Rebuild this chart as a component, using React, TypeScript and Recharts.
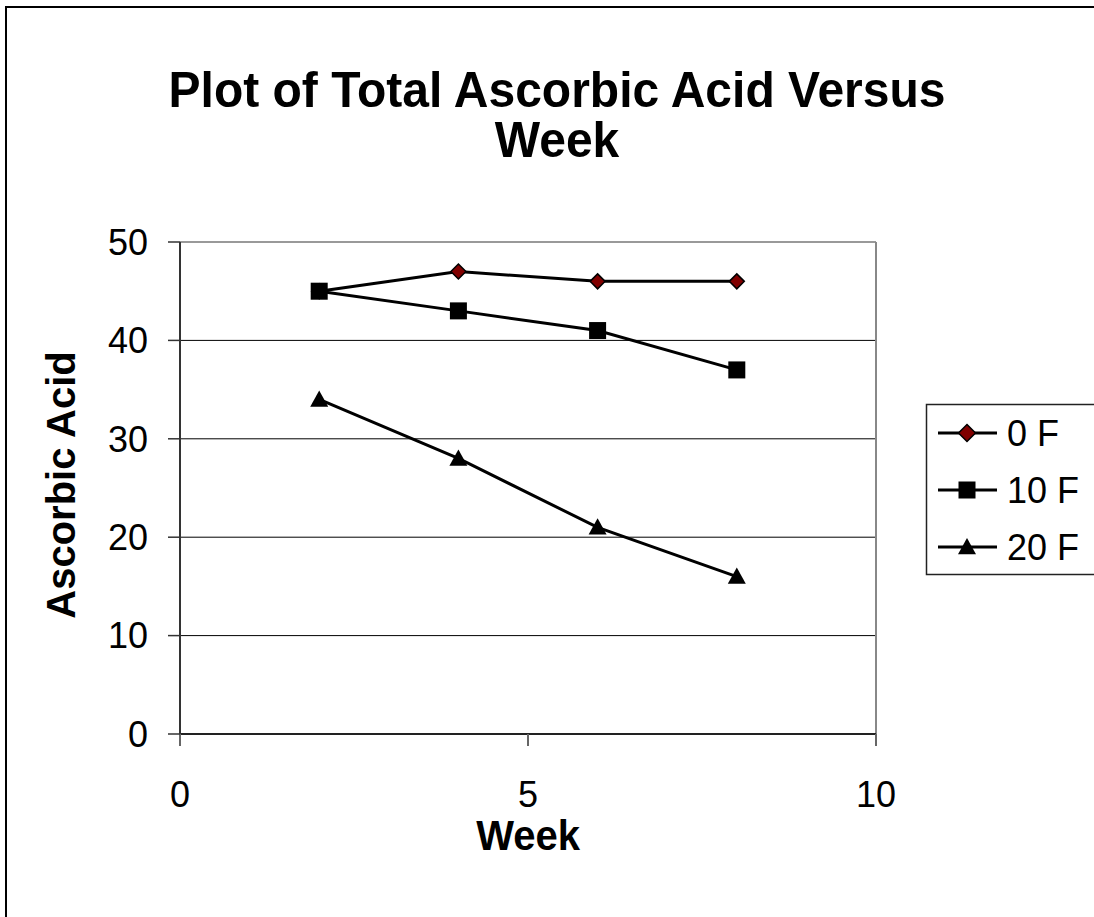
import React from "react";
import { LineChart, Line, XAxis, YAxis, CartesianGrid, ReferenceLine } from "recharts";

const weeks = [2, 4, 6, 8];
const series0F = [45, 47, 46, 46];
const series10F = [45, 43, 41, 37];
const series20F = [34, 28, 21, 16];
const xTicks = [0, 5, 10];
const yTicks = [0, 10, 20, 30, 40, 50];
const seriesNames = ["0 F", "10 F", "20 F"];
const titleLines = ["Plot of Total Ascorbic Acid Versus", "Week"];
const xTitle = "Week";
const yTitle = "Ascorbic Acid";

const data = weeks.map((w, i) => ({ week: w, f0: series0F[i], f10: series10F[i], f20: series20F[i] }));

const FONT = "'Liberation Sans', Arial, sans-serif";

const diamondPath = (cx: number, cy: number, r: number) =>
  `M${cx},${cy - r}L${cx + r},${cy}L${cx},${cy + r}L${cx - r},${cy}Z`;
const trianglePath = (cx: number, cy: number, r: number) =>
  `M${cx},${cy - r}L${cx + r},${cy + r * 0.8}L${cx - r},${cy + r * 0.8}Z`;

const DiamondDot = (props: any) => {
  const { cx, cy, index } = props;
  if (cx == null || cy == null) return <g key={`d-${index}`} />;
  return <path key={`d-${index}`} d={diamondPath(cx, cy, 7.5)} fill="#800000" stroke="#000" strokeWidth={1.5} />;
};
const SquareDot = (props: any) => {
  const { cx, cy, index } = props;
  if (cx == null || cy == null) return <g key={`s-${index}`} />;
  return <rect key={`s-${index}`} x={cx - 8.5} y={cy - 8.5} width={17} height={17} fill="#000" />;
};
const TriangleDot = (props: any) => {
  const { cx, cy, index } = props;
  if (cx == null || cy == null) return <g key={`t-${index}`} />;
  return <path key={`t-${index}`} d={trianglePath(cx, cy, 9)} fill="#000" />;
};

const legendMarkers = [
  (cx: number, cy: number) => <path d={diamondPath(cx, cy, 8.5)} fill="#800000" stroke="#000" strokeWidth={1.5} />,
  (cx: number, cy: number) => <rect x={cx - 8.5} y={cy - 8.5} width={17} height={17} fill="#000" />,
  (cx: number, cy: number) => <path d={trianglePath(cx, cy, 9)} fill="#000" />,
];

export default function App() {
  return (
    <div
      style={{
        position: "absolute",
        left: 0,
        top: 0,
        width: 1094,
        height: 917,
        overflow: "hidden",
        background: "#fff",
        fontFamily: FONT,
      }}
    >
      <div style={{ position: "absolute", left: 5, top: 6, width: 2000, height: 2000, borderLeft: "2px solid #000", borderTop: "2px solid #000" }} />
      <div style={{ position: "absolute", left: 0, top: 0 }}>
        <LineChart width={1094} height={917} data={data} margin={{ top: 242, right: 218, bottom: 123, left: 100 }}>
          <CartesianGrid horizontal={true} vertical={false} stroke="#000" strokeWidth={1} />
          <XAxis
            type="number"
            dataKey="week"
            domain={[0, 10]}
            ticks={xTicks}
            height={60}
            tickSize={12}
            tickMargin={35}
            axisLine={{ stroke: "#222", strokeWidth: 2 }}
            tickLine={{ stroke: "#666", strokeWidth: 2 }}
            tick={{ fill: "#000", fontSize: 36, fontFamily: FONT }}
            interval={0}
          />
          <YAxis
            type="number"
            domain={[0, 50]}
            ticks={yTicks}
            width={80}
            tickSize={12}
            tickMargin={20}
            axisLine={{ stroke: "#333", strokeWidth: 2 }}
            tickLine={{ stroke: "#333", strokeWidth: 1.5 }}
            tick={{ fill: "#000", fontSize: 36, fontFamily: FONT }}
            interval={0}
          />
          <ReferenceLine y={50} stroke="#999" strokeWidth={2} ifOverflow="visible" />
          <ReferenceLine x={10} stroke="#888" strokeWidth={2} ifOverflow="visible" />
          <Line dataKey="f0" name={seriesNames[0]} stroke="#000" strokeWidth={3} dot={DiamondDot} activeDot={false} isAnimationActive={false} />
          <Line dataKey="f10" name={seriesNames[1]} stroke="#000" strokeWidth={3} dot={SquareDot} activeDot={false} isAnimationActive={false} />
          <Line dataKey="f20" name={seriesNames[2]} stroke="#000" strokeWidth={3} dot={TriangleDot} activeDot={false} isAnimationActive={false} />
        </LineChart>
      </div>
      <svg width={1094} height={917} style={{ position: "absolute", left: 0, top: 0, pointerEvents: "none" }}>
        <text x={0} y={0} transform="translate(557,107) scale(1,1.06)" textAnchor="middle" fontSize={48} fontWeight="bold" fontFamily={FONT} fill="#000">
          {titleLines[0]}
        </text>
        <text x={0} y={0} transform="translate(557,157) scale(1,1.06)" textAnchor="middle" fontSize={48} fontWeight="bold" fontFamily={FONT} fill="#000">
          {titleLines[1]}
        </text>
        <text x={0} y={0} transform="translate(528,850) scale(1,1.06)" textAnchor="middle" fontSize={40} fontWeight="bold" fontFamily={FONT} fill="#000">
          {xTitle}
        </text>
        <text
          x={0}
          y={0}
          transform="translate(75,485) rotate(-90)"
          textAnchor="middle"
          fontSize={40}
          fontWeight="bold"
          fontFamily={FONT}
          fill="#000"
        >
          {yTitle}
        </text>
        <rect x={926.5} y={404.5} width={300} height={170} fill="#fff" stroke="#222" strokeWidth={1.5} />
        {seriesNames.map((name, i) => {
          const cy = 433 + i * 57;
          return (
            <g key={name}>
              <line x1={938} x2={997} y1={cy} y2={cy} stroke="#000" strokeWidth={3} />
              {legendMarkers[i](967, cy)}
              <text x={1007} y={cy} dy="0.355em" fontSize={36} fontFamily={FONT} fill="#000">
                {name}
              </text>
            </g>
          );
        })}
      </svg>
    </div>
  );
}
